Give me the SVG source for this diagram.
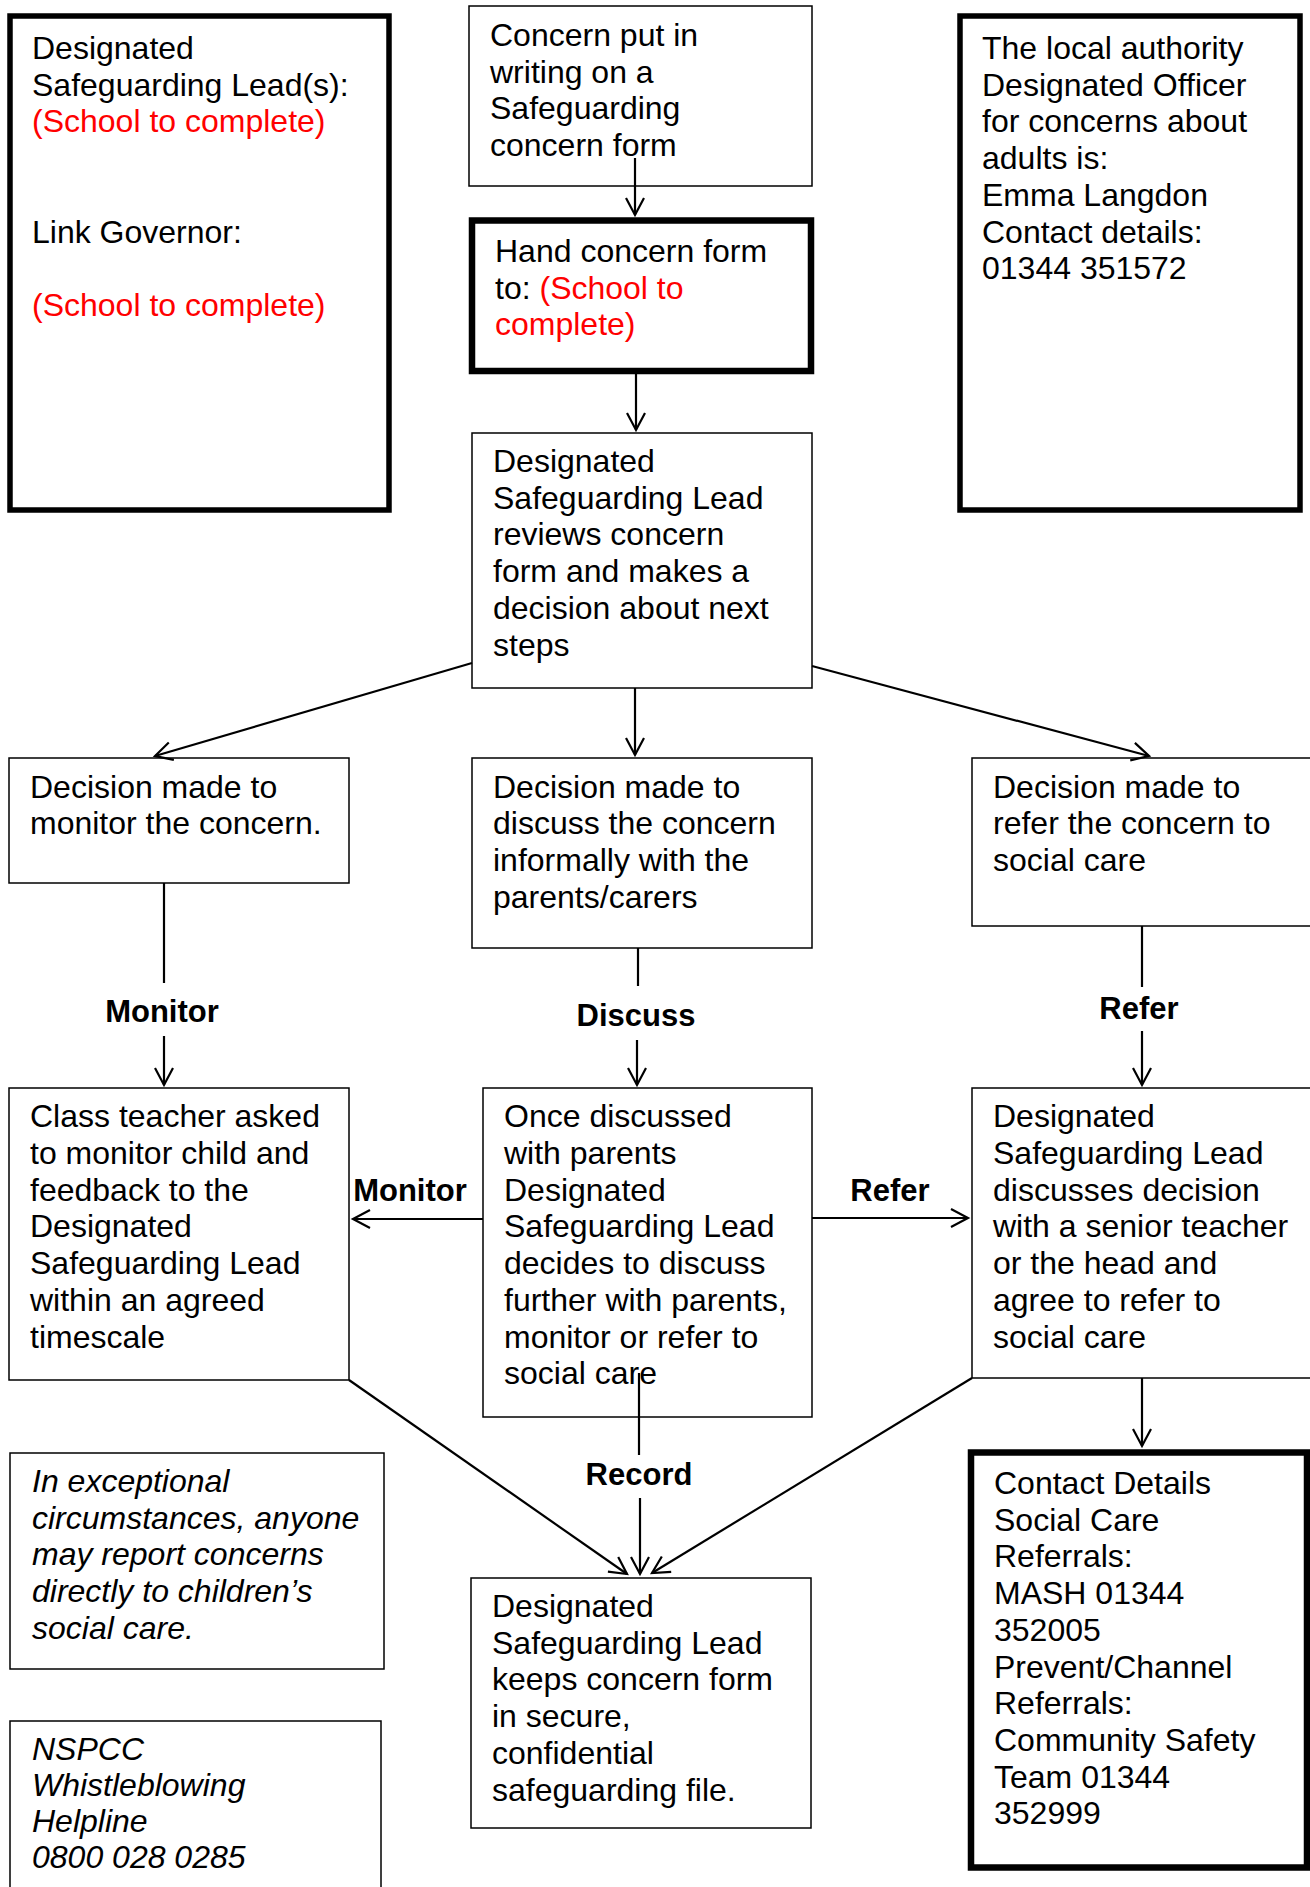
<svg xmlns="http://www.w3.org/2000/svg" width="1310" height="1887" viewBox="0 0 1310 1887">
<style>
text{font-family:"Liberation Sans",Arial,sans-serif;font-size:32px;fill:#000}
.red{fill:#FF0000}
.it{font-style:italic}
.lbl{font-weight:bold;font-size:31px;text-anchor:middle}
.box{fill:#fff;stroke:#000;stroke-width:1.5}
.thick{fill:#fff;stroke:#000;stroke-width:5.5}
.thick6{fill:#fff;stroke:#000;stroke-width:6.5}
.con line{stroke:#000;stroke-width:2.2;fill:none}
.arr{marker-end:url(#ah)}
</style>
<defs>
<marker id="ah" markerUnits="userSpaceOnUse" markerWidth="24" markerHeight="24" viewBox="-20 -12 24 24" refX="0" refY="0" orient="auto">
<path d="M-17,-9 L0,0 L-17,9" fill="none" stroke="#000" stroke-width="2.2"/>
</marker>
</defs>
<rect width="1310" height="1887" fill="#fff"/>

<g id="dsl-info">
<rect class="thick" x="10" y="16" width="379" height="494"/>
<text><tspan x="32" y="59">Designated</tspan><tspan x="32" y="95.7">Safeguarding Lead(s):</tspan><tspan x="32" y="132.4" class="red">(School to complete)</tspan><tspan x="32" y="242.5">Link Governor:</tspan><tspan x="32" y="316" class="red">(School to complete)</tspan></text>
</g>

<g id="concern-written">
<rect class="box" x="469" y="6" width="343" height="180"/>
<text><tspan x="490" y="46">Concern put in</tspan><tspan x="490" y="82.7">writing on a</tspan><tspan x="490" y="119.4">Safeguarding</tspan><tspan x="490" y="156">concern form</tspan></text>
</g>

<g id="hand-form">
<rect class="thick6" x="472" y="220.5" width="339" height="150.5"/>
<text><tspan x="495" y="262">Hand concern form</tspan><tspan x="495" y="298.7">to: </tspan><tspan class="red">(School to</tspan><tspan x="495" y="335.4" class="red">complete)</tspan></text>
</g>

<g id="lado-info">
<rect class="thick" x="960" y="16" width="340" height="494"/>
<text><tspan x="982" y="59">The local authority</tspan><tspan x="982" y="95.7">Designated Officer</tspan><tspan x="982" y="132.4">for concerns about</tspan><tspan x="982" y="169">adults is:</tspan><tspan x="982" y="205.8">Emma Langdon</tspan><tspan x="982" y="242.5">Contact details:</tspan><tspan x="982" y="279.2">01344 351572</tspan></text>
</g>

<g id="dsl-review">
<rect class="box" x="472" y="433" width="340" height="255"/>
<text><tspan x="493" y="472">Designated</tspan><tspan x="493" y="508.7">Safeguarding Lead</tspan><tspan x="493" y="545.4">reviews concern</tspan><tspan x="493" y="582">form and makes a</tspan><tspan x="493" y="618.8">decision about next</tspan><tspan x="493" y="655.5">steps</tspan></text>
</g>

<g id="decide-monitor">
<rect class="box" x="9" y="758" width="340" height="125"/>
<text><tspan x="30" y="797.7">Decision made to</tspan><tspan x="30" y="834.4">monitor the concern.</tspan></text>
</g>

<g id="decide-discuss">
<rect class="box" x="472" y="758" width="340" height="190"/>
<text><tspan x="493" y="797.7">Decision made to</tspan><tspan x="493" y="834.4">discuss the concern</tspan><tspan x="493" y="871">informally with the</tspan><tspan x="493" y="907.8">parents/carers</tspan></text>
</g>

<g id="decide-refer">
<rect class="box" x="972" y="758" width="340" height="168"/>
<text><tspan x="993" y="797.7">Decision made to</tspan><tspan x="993" y="834.4">refer the concern to</tspan><tspan x="993" y="871">social care</tspan></text>
</g>

<g id="class-teacher">
<rect class="box" x="9" y="1088" width="340" height="292"/>
<text><tspan x="30" y="1127.3">Class teacher asked</tspan><tspan x="30" y="1164">to monitor child and</tspan><tspan x="30" y="1200.7">feedback to the</tspan><tspan x="30" y="1237.4">Designated</tspan><tspan x="30" y="1274">Safeguarding Lead</tspan><tspan x="30" y="1310.8">within an agreed</tspan><tspan x="30" y="1347.5">timescale</tspan></text>
</g>

<g id="once-discussed">
<rect class="box" x="483" y="1088" width="329" height="329"/>
<text><tspan x="504" y="1127.3">Once discussed</tspan><tspan x="504" y="1164">with parents</tspan><tspan x="504" y="1200.7">Designated</tspan><tspan x="504" y="1237.4">Safeguarding Lead</tspan><tspan x="504" y="1274">decides to discuss</tspan><tspan x="504" y="1310.8">further with parents,</tspan><tspan x="504" y="1347.5">monitor or refer to</tspan><tspan x="504" y="1384.2">social care</tspan></text>
</g>

<g id="dsl-discusses">
<rect class="box" x="972" y="1088" width="340" height="290"/>
<text><tspan x="993" y="1127.3">Designated</tspan><tspan x="993" y="1164">Safeguarding Lead</tspan><tspan x="993" y="1200.7">discusses decision</tspan><tspan x="993" y="1237.4">with a senior teacher</tspan><tspan x="993" y="1274">or the head and</tspan><tspan x="993" y="1310.8">agree to refer to</tspan><tspan x="993" y="1347.5">social care</tspan></text>
</g>

<g id="exceptional">
<rect class="box" x="10" y="1453" width="374" height="216"/>
<text class="it"><tspan x="32" y="1492">In exceptional</tspan><tspan x="32" y="1528.5">circumstances, anyone</tspan><tspan x="32" y="1565">may report concerns</tspan><tspan x="32" y="1601.8">directly to children’s</tspan><tspan x="32" y="1638.5">social care.</tspan></text>
</g>

<g id="nspcc">
<rect class="box" x="10" y="1721" width="371" height="200"/>
<text class="it"><tspan x="32" y="1760">NSPCC</tspan><tspan x="32" y="1796">Whistleblowing</tspan><tspan x="32" y="1832">Helpline</tspan><tspan x="32" y="1868">0800 028 0285</tspan></text>
</g>

<g id="record">
<rect class="box" x="471" y="1578" width="340" height="250"/>
<text><tspan x="492" y="1617">Designated</tspan><tspan x="492" y="1653.7">Safeguarding Lead</tspan><tspan x="492" y="1690.4">keeps concern form</tspan><tspan x="492" y="1727">in secure,</tspan><tspan x="492" y="1763.8">confidential</tspan><tspan x="492" y="1800.5">safeguarding file.</tspan></text>
</g>

<g id="contact">
<rect class="thick6" x="971" y="1452.5" width="336" height="415"/>
<text><tspan x="994" y="1494">Contact Details</tspan><tspan x="994" y="1530.7">Social Care</tspan><tspan x="994" y="1567.4">Referrals:</tspan><tspan x="994" y="1604">MASH 01344</tspan><tspan x="994" y="1640.8">352005</tspan><tspan x="994" y="1677.5">Prevent/Channel</tspan><tspan x="994" y="1714.2">Referrals:</tspan><tspan x="994" y="1751">Community Safety</tspan><tspan x="994" y="1787.6">Team 01344</tspan><tspan x="994" y="1824.3">352999</tspan></text>
</g>

<g id="connectors" class="con">
<line class="arr" x1="635" y1="158" x2="635" y2="215"/>
<line class="arr" x1="636" y1="374" x2="636" y2="430"/>
<line class="arr" x1="472" y1="663" x2="155" y2="756"/>
<line class="arr" x1="635" y1="688" x2="635" y2="755"/>
<line class="arr" x1="812" y1="666" x2="1149" y2="756"/>
<line x1="164" y1="883" x2="164" y2="983"/>
<line class="arr" x1="164" y1="1036" x2="164" y2="1085"/>
<line x1="638" y1="948" x2="638" y2="986"/>
<line class="arr" x1="637" y1="1040" x2="637" y2="1085"/>
<line x1="1142" y1="926" x2="1142" y2="987"/>
<line class="arr" x1="1142" y1="1031" x2="1142" y2="1085"/>
<line class="arr" x1="483" y1="1219" x2="353" y2="1219"/>
<line class="arr" x1="812" y1="1218" x2="968" y2="1218"/>
<line class="arr" x1="349" y1="1380" x2="627" y2="1574"/>
<line class="arr" x1="972" y1="1378" x2="652" y2="1573"/>
<line x1="639" y1="1373" x2="639" y2="1455"/>
<line class="arr" x1="640" y1="1498" x2="640" y2="1574"/>
<line class="arr" x1="1142" y1="1378" x2="1142" y2="1446"/>
<text class="lbl" x="162" y="1022">Monitor</text>
<text class="lbl" x="636" y="1026">Discuss</text>
<text class="lbl" x="1139" y="1019">Refer</text>
<text class="lbl" x="410" y="1201">Monitor</text>
<text class="lbl" x="890" y="1201">Refer</text>
<text class="lbl" x="639" y="1485">Record</text>
</g>
</svg>
